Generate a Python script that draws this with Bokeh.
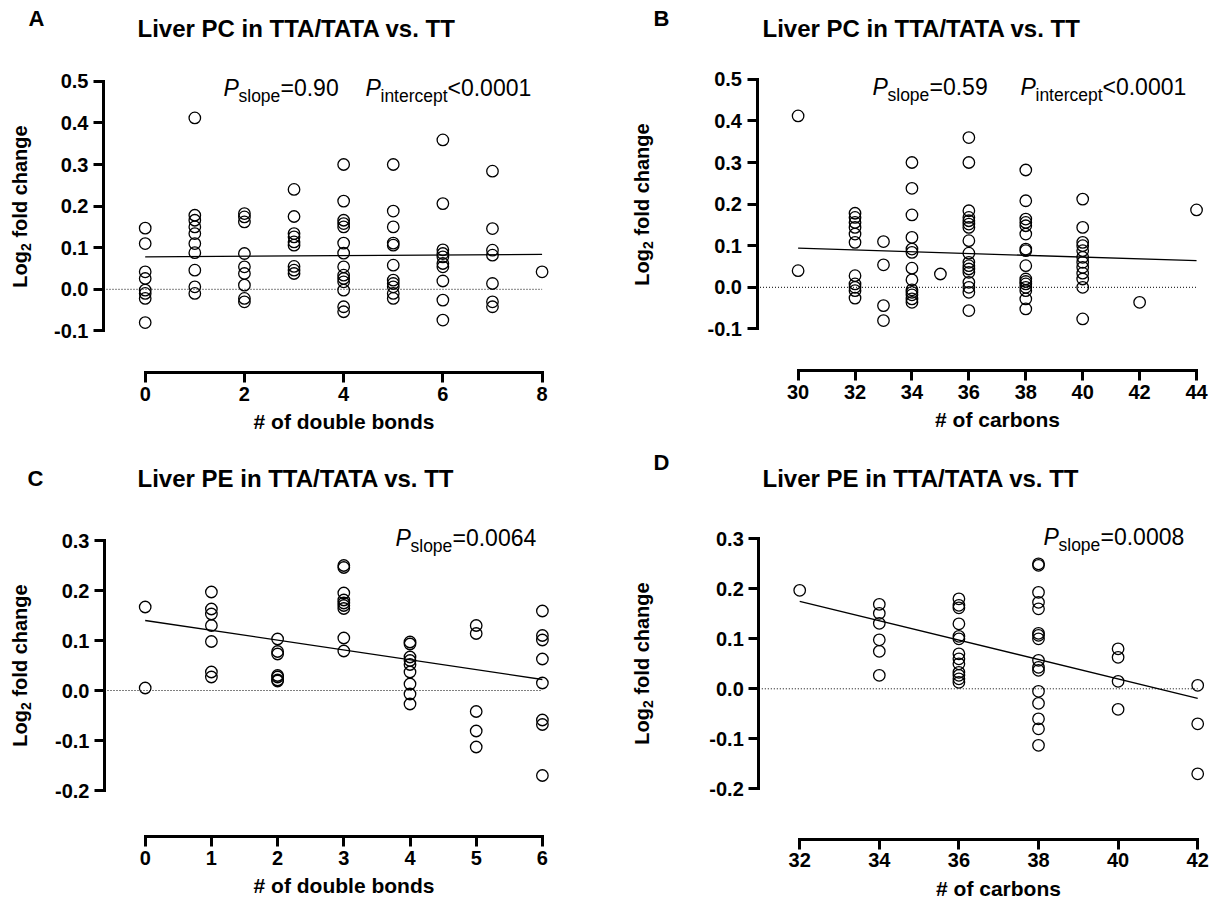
from math import pi
from bokeh.plotting import figure
from bokeh.models import Label, FixedTicker, PrintfTickFormatter, LinearAxis
from bokeh.layouts import column, row
from bokeh.embed import file_html
from bokeh.resources import INLINE

FONT = "Liberation Sans"

# ---------------- data ----------------
# A: Liver PC, log2 fold change vs # of double bonds
pc_db_x = [0, 0, 0, 0, 0, 0, 0, 0,
           1, 1, 1, 1, 1, 1, 1, 1, 1, 1,
           2, 2, 2, 2, 2, 2, 2, 2, 2,
           3, 3, 3, 3, 3, 3, 3, 3, 3,
           4, 4, 4, 4, 4, 4, 4, 4, 4, 4, 4, 4, 4, 4,
           5, 5, 5, 5, 5, 5, 5, 5, 5, 5, 5,
           6, 6, 6, 6, 6, 6, 6, 6, 6, 6,
           7, 7, 7, 7, 7, 7, 7,
           8]
pc_db_y = [0.147, 0.110, 0.042, 0.026, -0.002, -0.010, -0.022, -0.080,
           0.412, 0.178, 0.166, 0.150, 0.134, 0.110, 0.088, 0.046, 0.006, -0.010,
           0.182, 0.174, 0.162, 0.086, 0.054, 0.038, 0.010, -0.022, -0.030,
           0.240, 0.175, 0.134, 0.126, 0.114, 0.106, 0.055, 0.046, 0.038,
           0.300, 0.212, 0.166, 0.158, 0.150, 0.111, 0.087, 0.054, 0.034, 0.026, 0.018, -0.002, -0.042, -0.054,
           0.300, 0.188, 0.150, 0.111, 0.106, 0.058, 0.022, 0.014, 0.006, -0.010, -0.022,
           0.359, 0.206, 0.095, 0.086, 0.078, 0.062, 0.054, 0.020, -0.026, -0.074,
           0.284, 0.146, 0.094, 0.082, 0.014, -0.030, -0.042,
           0.042]
pc_db_fit_x = [0, 8]
pc_db_fit_y = [0.078, 0.084]

# B: Liver PC, log2 fold change vs # of carbons
pc_c_x = [30, 30,
          32, 32, 32, 32, 32, 32, 32, 32, 32, 32, 32,
          33, 33, 33, 33,
          34, 34, 34, 34, 34, 34, 34, 34, 34, 34, 34, 34, 34,
          35,
          36, 36, 36, 36, 36, 36, 36, 36, 36, 36, 36, 36, 36, 36, 36, 36, 36,
          38, 38, 38, 38, 38, 38, 38, 38, 38, 38, 38, 38, 38, 38, 38, 38,
          40, 40, 40, 40, 40, 40, 40, 40, 40, 40, 40, 40,
          42,
          44]
pc_c_y = [0.412, 0.040,
          0.178, 0.168, 0.156, 0.144, 0.128, 0.108, 0.028, 0.008, 0.000, -0.008, -0.026,
          0.110, 0.054, -0.044, -0.080,
          0.300, 0.238, 0.174, 0.120, 0.092, 0.084, 0.046, 0.018, -0.006, -0.012, -0.018, -0.028, -0.036,
          0.032,
          0.360, 0.300, 0.184, 0.168, 0.160, 0.152, 0.144, 0.112, 0.082, 0.060, 0.052, 0.044, 0.036, 0.012, 0.000, -0.012, -0.056,
          0.282, 0.208, 0.164, 0.156, 0.148, 0.128, 0.092, 0.088, 0.052, 0.020, 0.014, 0.008, 0.000, -0.008, -0.028, -0.052,
          0.212, 0.144, 0.108, 0.100, 0.088, 0.072, 0.060, 0.048, 0.034, 0.020, 0.000, -0.076,
          -0.036,
          0.186]
pc_c_fit_x = [30, 44]
pc_c_fit_y = [0.094, 0.064]

# C: Liver PE, log2 fold change vs # of double bonds
pe_db_x = [0, 0,
           1, 1, 1, 1, 1, 1, 1,
           2, 2, 2, 2, 2, 2, 2,
           3, 3, 3, 3, 3, 3, 3, 3, 3,
           4, 4, 4, 4, 4, 4, 4, 4, 4,
           5, 5, 5, 5, 5,
           6, 6, 6, 6, 6, 6, 6, 6]
pe_db_y = [0.167, 0.005,
           0.197, 0.163, 0.153, 0.130, 0.098, 0.037, 0.027,
           0.103, 0.078, 0.073, 0.030, 0.027, 0.021, 0.019,
           0.250, 0.246, 0.195, 0.181, 0.175, 0.170, 0.164, 0.105, 0.079,
           0.097, 0.093, 0.067, 0.060, 0.052, 0.037, 0.013, -0.007, -0.027,
           0.130, 0.114, -0.042, -0.081, -0.113,
           0.159, 0.110, 0.101, 0.063, 0.015, -0.059, -0.068, -0.170]
pe_db_fit_x = [0, 6]
pe_db_fit_y = [0.140, 0.022]

# D: Liver PE, log2 fold change vs # of carbons
pe_c_x = [32,
          34, 34, 34, 34, 34, 34,
          36, 36, 36, 36, 36, 36, 36, 36, 36, 36, 36, 36, 36,
          38, 38, 38, 38, 38, 38, 38, 38, 38, 38, 38, 38, 38, 38, 38, 38,
          40, 40, 40, 40,
          42, 42, 42]
pe_c_y = [0.197,
          0.169, 0.151, 0.131, 0.098, 0.075, 0.027,
          0.180, 0.167, 0.162, 0.130, 0.105, 0.100, 0.070, 0.060, 0.050, 0.033, 0.027, 0.020, 0.013,
          0.250, 0.247, 0.193, 0.173, 0.160, 0.111, 0.107, 0.100, 0.057, 0.043, 0.037, -0.005, -0.029, -0.060, -0.080, -0.113,
          0.080, 0.063, 0.015, -0.041,
          0.007, -0.070, -0.170]
pe_c_fit_x = [32, 42]
pe_c_fit_y = [0.175, -0.019]

db_ticks_pc = [0, 2, 4, 6, 8]
c_ticks_pc = [30, 32, 34, 36, 38, 40, 42, 44]
db_ticks_pe = [0, 1, 2, 3, 4, 5, 6]
c_ticks_pe = [32, 34, 36, 38, 40, 42]
y_ticks_pc = [-0.1, 0.0, 0.1, 0.2, 0.3, 0.4, 0.5]
y_ticks_pe = [-0.2, -0.1, 0.0, 0.1, 0.2, 0.3]

MID = 0.3465  # em-box middle above the alphabetic baseline


# ---------------- helpers ----------------
class Panel:
    """A figure whose frame covers the whole figure; axes at fixed locations."""

    def __init__(self, ox, oy, W, H, xref, xref_px, xppu, yzero_px, yppu,
                 yaxis_px, xaxis_px):
        self.ox, self.oy = ox, oy
        self.x0 = xref - (xref_px - ox) / xppu
        self.x1 = self.x0 + W / xppu
        self.y1 = (yzero_px - oy) / yppu
        self.y0 = self.y1 - H / yppu
        self.yaxis_loc = xref + (yaxis_px - xref_px) / xppu
        self.xaxis_loc = (yzero_px - xaxis_px) / yppu
        self.p = figure(frame_width=W, frame_height=H,
                        x_range=(self.x0, self.x1), y_range=(self.y0, self.y1),
                        output_backend="svg", toolbar_location=None,
                        x_axis_location=None, y_axis_location=None,
                        min_border=0)
        p = self.p
        p.xgrid.visible = False
        p.ygrid.visible = False
        p.outline_line_color = None

    def axes(self, xticks, yticks, xlabel, tick_size="20px", xlab_standoff=6):
        p = self.p
        xa = LinearAxis(fixed_location=self.xaxis_loc)
        ya = LinearAxis(fixed_location=self.yaxis_loc)
        for ax, ticks in ((xa, xticks), (ya, yticks)):
            ax.ticker = FixedTicker(ticks=ticks)
            ax.bounds = (ticks[0], ticks[-1])
            ax.axis_line_width = 3
            ax.axis_line_color = "black"
            ax.axis_line_cap = "square"
            ax.major_tick_line_width = 3
            ax.major_tick_line_color = "black"
            ax.major_tick_out = 10
            ax.major_tick_in = 0
            ax.minor_tick_line_color = None
            ax.major_label_text_font = FONT
            ax.major_label_text_font_style = "bold"
            ax.major_label_text_font_size = tick_size
            ax.major_label_text_color = "black"
        ya.formatter = PrintfTickFormatter(format="%.1f")
        ya.major_label_standoff = 5
        xa.major_label_standoff = 4
        xa.axis_label = xlabel
        xa.axis_label_text_font = FONT
        xa.axis_label_text_font_style = "bold"
        xa.axis_label_text_font_size = "21px"
        xa.axis_label_text_color = "black"
        xa.axis_label_standoff = xlab_standoff
        p.add_layout(xa, "below")
        p.add_layout(ya, "left")
        self.xticks = xticks

    def data(self, xs, ys, fit_x, fit_y):
        p = self.p
        p.line([self.yaxis_loc, self.xticks[-1]], [0, 0], line_color="black",
               line_width=1, line_dash="1 2")
        p.line(fit_x, fit_y, line_color="black", line_width=1.3)
        p.scatter(xs, ys, marker="circle", size=11.5, fill_color=None,
                  line_color="black", line_width=1.3)

    def put(self, px, py, text, size, style="normal", vertical=False):
        # (px, py): start of the text on its alphabetic baseline, page pixels
        if vertical:
            ax, ay, angle = px - MID * size, py, pi / 2
        else:
            ax, ay, angle = px, py - MID * size, 0.0
        self.p.add_layout(Label(x=self.x0, y=self.y1, x_units="data", y_units="data",
                                x_offset=ax - self.ox, y_offset=self.oy - ay,
                                text=text, text_font=FONT,
                                text_font_size=f"{size}px", text_font_style=style,
                                text_color="black", text_align="left",
                                text_baseline="middle", angle=angle))

    def ylabel(self, bx, cy):
        w_log, w_2, w_sp, w_rest = 36.7, 7.8, 5.6, 112.2
        start = cy + (w_log + w_2 + w_sp + w_rest) / 2
        self.put(bx, start, "Log", 20, "bold", vertical=True)
        self.put(bx + 4, start - w_log, "2", 14, "bold", vertical=True)
        self.put(bx, start - w_log - w_2 - w_sp, "fold change", 20, "bold", vertical=True)

    def pval(self, px, py, sub, rest):
        self.put(px, py, "P", 23, "italic")
        self.put(px + 15, py + 6.5, sub, 17.5)
        sub_w = {"slope": 42, "intercept": 67}[sub]
        self.put(px + 15 + sub_w, py, rest, 23)


# ---------------- panels ----------------
A = Panel(0, 0, 605, 448, 0, 144.7, 49.61, 288.8, 416, 103, 372)
A.axes(db_ticks_pc, y_ticks_pc, "# of double bonds")
A.data(pc_db_x, pc_db_y, pc_db_fit_x, pc_db_fit_y)
A.put(28, 25.6, "A", 22, "bold")
A.put(137, 36.3, "Liver PC in TTA/TATA vs. TT", 24, "bold")
A.pval(223, 95, "slope", "=0.90")
A.pval(365, 95, "intercept", "<0.0001")
A.ylabel(26, 206)

B = Panel(605, 0, 608, 448, 30, 797.6, 28.46, 286.8, 416, 756.5, 370)
B.axes(c_ticks_pc, y_ticks_pc, "# of carbons")
B.data(pc_c_x, pc_c_y, pc_c_fit_x, pc_c_fit_y)
B.put(653, 25.6, "B", 22, "bold")
B.put(762, 36.3, "Liver PC in TTA/TATA vs. TT", 24, "bold")
B.pval(872, 94, "slope", "=0.59")
B.pval(1020, 94, "intercept", "<0.0001")
B.ylabel(648, 204)

C = Panel(0, 448, 605, 458, 0, 144.7, 66.2, 690, 500, 104, 836)
C.axes(db_ticks_pe, y_ticks_pe, "# of double bonds")
C.data(pe_db_x, pe_db_y, pe_db_fit_x, pe_db_fit_y)
C.put(27, 485.6, "C", 22, "bold")
C.put(137, 486.3, "Liver PE in TTA/TATA vs. TT", 24, "bold")
C.pval(395, 545, "slope", "=0.0064")
C.ylabel(26, 665)

D = Panel(605, 448, 608, 458, 32, 799.2, 39.8, 688.3, 500, 758.3, 838.8)
D.axes(c_ticks_pe, y_ticks_pe, "# of carbons")
D.data(pe_c_x, pe_c_y, pe_c_fit_x, pe_c_fit_y)
D.put(653, 469.6, "D", 22, "bold")
D.put(762, 486.3, "Liver PE in TTA/TATA vs. TT", 24, "bold")
D.pval(1043, 544, "slope", "=0.0008")
D.ylabel(648, 663)

layout = column(row(A.p, B.p), row(C.p, D.p))
open("out.html", "w").write(file_html(layout, INLINE))
